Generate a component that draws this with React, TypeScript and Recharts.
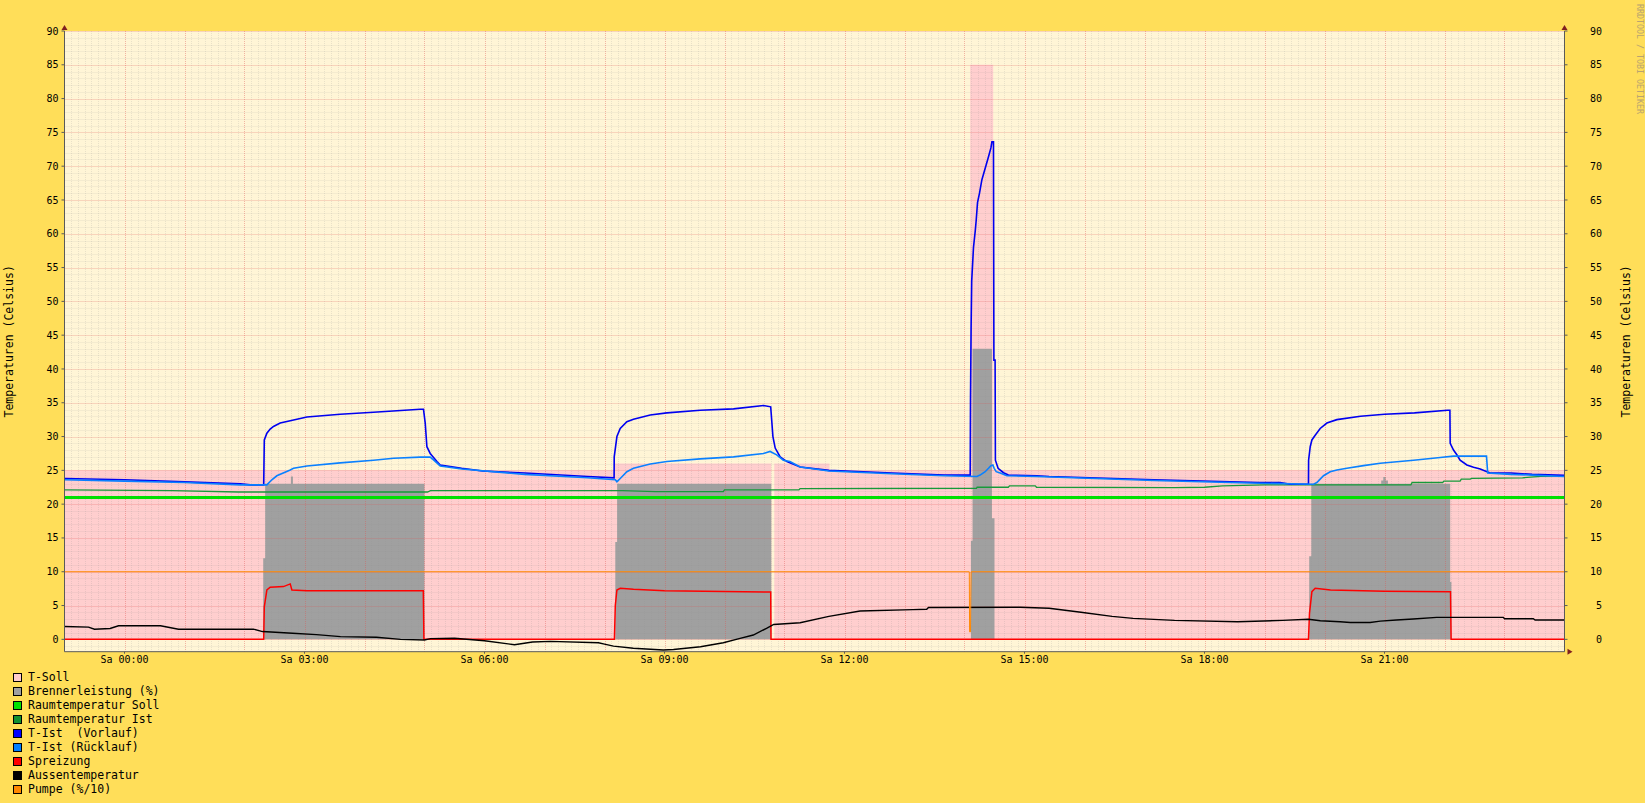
import { ComposedChart, Area, Line, XAxis, YAxis, CartesianGrid, Legend } from 'recharts';

const FONT = '"DejaVu Sans Mono", monospace';

// time in hours (Sa 00:00 = 0), values in °C
const tSoll: [number, number][] = [
  [-1, 25], [8.17, 26], [10.78, 0], [10.83, 26], [11.75, 25], [14.095, 85], [14.478, 25], [24, 25],
];

const brenner: [number, number][] = [
  [-1, 0], [2.312, 12], [2.345, 23], [2.773, 24.1], [2.807, 23], [5.0, 0],
  [8.18, 14.4], [8.21, 23], [10.78, 0],
  [14.107, 14.6], [14.134, 43], [14.457, 17.9], [14.5, 0],
  [19.745, 12.3], [19.78, 23], [20.945, 23.5], [20.98, 24], [21.02, 23.5], [21.057, 23],
  [22.095, 8.5], [22.115, 0], [24, 0],
];

const raumSoll: [number, number][] = [[-1, 21], [24, 21]];

const raumIst: [number, number][] = [
  [-1, 22.1], [0.8, 22.0], [1.9, 21.8], [5.05, 21.8], [5.1, 22.0], [8.3, 22.0], [8.85, 21.85],
  [9.98, 21.85], [10.0, 22.1], [11.24, 22.1], [11.26, 22.3], [14.2, 22.35], [14.21, 22.5],
  [14.73, 22.5], [14.75, 22.7], [15.18, 22.7], [15.2, 22.5], [17.5, 22.45], [18.0, 22.5],
  [18.3, 22.7], [19.0, 22.85], [21.44, 22.85], [21.46, 23.2], [21.97, 23.2], [21.99, 23.4],
  [22.26, 23.4], [22.28, 23.7], [22.43, 23.7], [22.45, 23.8], [23.3, 23.9], [23.6, 24.1], [24, 24.2],
];

const vorlauf: [number, number][] = [
  [-1, 23.8], [0, 23.6], [1.0, 23.3], [1.93, 23.0], [2.1, 22.85], [2.32, 22.85], [2.33, 29.5],
  [2.373, 30.5], [2.428, 31.1], [2.483, 31.5], [2.595, 32.0], [2.762, 32.35], [3.04, 32.9],
  [3.595, 33.3], [4.15, 33.6], [4.928, 34.05], [4.983, 34.05], [5.012, 32.0], [5.04, 28.5],
  [5.095, 27.5], [5.207, 26.3], [5.262, 25.8], [5.62, 25.3], [5.97, 24.9], [6.67, 24.6],
  [7.72, 24.1], [8.16, 23.9], [8.162, 27.0], [8.207, 30.0], [8.262, 31.2], [8.373, 32.2],
  [8.483, 32.55], [8.762, 33.2], [9.04, 33.5], [9.595, 33.9], [10.15, 34.1], [10.65, 34.6],
  [10.77, 34.4], [10.807, 30.0], [10.845, 28.3], [10.928, 27.0], [11.04, 26.3], [11.262, 25.5],
  [11.74, 25.0], [12.79, 24.6], [13.66, 24.3], [14.095, 24.3], [14.1, 35.2], [14.11, 46],
  [14.12, 53], [14.15, 58], [14.18, 60.5], [14.195, 62], [14.217, 64.6], [14.25, 66],
  [14.29, 68], [14.345, 69.7], [14.4, 71.4], [14.44, 72.7], [14.457, 73.6], [14.483, 73.6],
  [14.49, 41.3], [14.51, 41.3], [14.515, 26.5], [14.56, 25.3], [14.65, 24.65], [14.73, 24.3],
  [15.206, 24.2], [15.41, 24.1], [17.16, 23.6], [18.91, 23.2], [19.26, 23.2], [19.43, 22.95],
  [19.733, 22.95], [19.735, 26.5], [19.762, 28.5], [19.79, 29.5], [19.845, 30.2], [19.928, 31.2],
  [20.04, 32.0], [20.206, 32.5], [20.6, 33.0], [21.0, 33.3], [21.5, 33.5], [22.05, 33.9],
  [22.09, 33.9], [22.095, 29.0], [22.15, 28.0], [22.206, 27.3], [22.26, 26.5], [22.373, 25.8],
  [22.484, 25.45], [22.595, 25.2], [22.76, 24.6], [23.11, 24.6], [23.46, 24.4], [24, 24.25],
];

const ruecklauf: [number, number][] = [
  [-1, 23.6], [0, 23.4], [1.0, 23.2], [1.93, 22.85], [2.373, 22.85], [2.456, 23.6], [2.539, 24.2],
  [2.762, 25.05], [2.817, 25.3], [3.04, 25.65], [3.595, 26.1], [4.15, 26.5], [4.484, 26.8],
  [4.928, 26.95], [5.095, 26.95], [5.15, 26.55], [5.262, 25.65], [5.62, 25.2], [6.67, 24.4],
  [7.72, 23.9], [8.18, 23.6], [8.207, 23.3], [8.262, 23.8], [8.373, 24.8], [8.483, 25.3],
  [8.762, 25.95], [9.04, 26.3], [9.595, 26.7], [10.15, 27.0], [10.65, 27.5], [10.76, 27.8],
  [10.87, 27.3], [10.98, 26.5], [11.09, 26.3], [11.262, 25.5], [11.74, 24.9], [12.79, 24.5],
  [13.66, 24.2], [14.206, 24.1], [14.26, 24.3], [14.345, 24.8], [14.4, 25.3], [14.44, 25.7],
  [14.473, 25.8], [14.495, 25.3], [14.528, 24.8], [14.595, 24.6], [14.707, 24.2], [15.206, 24.1],
  [17.16, 23.5], [18.91, 23.1], [19.817, 22.95], [19.873, 23.2], [19.928, 23.7], [19.984, 24.2],
  [20.095, 24.8], [20.206, 25.05], [20.373, 25.3], [20.65, 25.7], [20.928, 26.05], [21.484, 26.5],
  [21.928, 26.9], [22.15, 27.1], [22.7, 27.1], [22.72, 24.6], [23.11, 24.4], [23.46, 24.3], [24, 24.1],
];

const spreizung: [number, number][] = [
  [-1, 0], [2.32, 0], [2.33, 4.8], [2.373, 7.3], [2.428, 7.7], [2.65, 7.8], [2.762, 8.2],
  [2.79, 7.3], [3.04, 7.2], [4.98, 7.2], [4.99, 0], [8.165, 0], [8.18, 5], [8.207, 7.3],
  [8.262, 7.55], [8.483, 7.4], [9.0, 7.2], [10.77, 7.0], [10.775, 0], [19.733, 0], [19.75, 3.85],
  [19.79, 7.05], [19.845, 7.55], [20.1, 7.3], [21.0, 7.1], [22.1, 7.05], [22.11, 0], [24, 0],
];

const aussen: [number, number][] = [
  [-1, 1.9], [-0.6, 1.8], [-0.5, 1.5], [-0.24, 1.6], [-0.1, 2.0], [0.6, 2.0], [0.9, 1.5],
  [2.15, 1.5], [2.3, 1.15], [2.8, 0.9], [3.2, 0.7], [3.6, 0.4], [4.2, 0.3], [4.6, 0.0],
  [5.0, -0.1], [5.1, 0.1], [5.5, 0.15], [6.0, -0.2], [6.5, -0.8], [6.8, -0.4], [7.1, -0.3],
  [7.9, -0.5], [8.0, -0.7], [8.15, -1.0], [8.48, -1.33], [8.98, -1.58], [9.15, -1.5],
  [9.6, -1.1], [9.98, -0.5], [10.26, 0.15], [10.48, 0.64], [10.7, 1.63], [10.82, 2.2],
  [11.26, 2.45], [11.74, 3.4], [12.26, 4.2], [13.14, 4.4], [13.37, 4.44], [13.4, 4.7],
  [14.93, 4.75], [15.41, 4.6], [15.94, 4.0], [16.46, 3.4], [16.81, 3.1], [17.5, 2.8],
  [18.55, 2.6], [19.3, 2.8], [19.73, 2.96], [19.93, 2.75], [20.26, 2.6], [20.43, 2.5],
  [20.76, 2.5], [20.93, 2.7], [21.2, 2.86], [21.48, 3.0], [21.87, 3.25], [22.98, 3.25],
  [23.0, 3.05], [23.48, 3.05], [23.51, 2.86], [24, 2.86],
];

const pumpe: [number, number][] = [
  [-1, 10], [14.08, 10], [14.085, 1.1], [14.1, 1.1], [14.105, 6.3], [14.11, 10], [24, 10],
];

const yTicks = [0, 5, 10, 15, 20, 25, 30, 35, 40, 45, 50, 55, 60, 65, 70, 75, 80, 85, 90];
const xTicks = [0, 3, 6, 9, 12, 15, 18, 21];
const X_DOMAIN: [number, number] = [-1, 24];
const Y_DOMAIN: [number, number] = [-1.83, 90];

const legendItems = [
  { name: 'T-Soll', color: '#FFCCCC' },
  { name: 'Brennerleistung (%)', color: '#A0A0A0' },
  { name: 'Raumtemperatur Soll', color: '#00E000' },
  { name: 'Raumtemperatur Ist', color: '#109030' },
  { name: 'T-Ist  (Vorlauf)', color: '#0000FF' },
  { name: 'T-Ist (Rücklauf)', color: '#0080FF' },
  { name: 'Spreizung', color: '#FF0000' },
  { name: 'Aussentemperatur', color: '#000000' },
  { name: 'Pumpe (%/10)', color: '#FF8800' },
];

const rows = (pts: [number, number][]) => pts.map(([t, v]) => ({ t, v }));

// grid positions
const minorY: number[] = [];
for (let v = -1; v <= 90; v++) if (v % 5 !== 0) minorY.push(v);
const minorX: number[] = [];
for (let i = 0; i <= 25 * 9; i++) if (i % 9 !== 0) minorX.push(-1 + i / 9);
const majorX: number[] = [];
for (let h = 0; h < 24; h++) majorX.push(h);

const crisp = (p: number) => Math.round(p) + 0.5;

// map a value through the axis scale handed over by the grid
const project = (axis: any, domain: [number, number], v: number): number => {
  const s = axis && axis.scale;
  if (typeof s === 'function') return s(v);
  if (s && typeof s.map === 'function') return s.map(v);
  const r = axis && axis.range;
  if (Array.isArray(r)) return r[0] + ((v - domain[0]) / (domain[1] - domain[0])) * (r[1] - r[0]);
  return NaN;
};

const hGen = (vals: number[]) => ({ yAxis }: any) =>
  vals.map((v) => crisp(project(yAxis, Y_DOMAIN, v))).filter((p) => Number.isFinite(p));
const vGen = (vals: number[]) => ({ xAxis }: any) =>
  vals.map((v) => crisp(project(xAxis, X_DOMAIN, v))).filter((p) => Number.isFinite(p));

const ARROW = '#7F1F1F';
const AXIS = '#5A5A5A';

const LeftDecor = (props: any) => {
  const vb = props.viewBox || {};
  const ax = vb.x + vb.width;
  const cx = vb.x + 0.8;
  const cy = vb.y + vb.height / 2;
  return (
    <g>
      <polygon points={`${ax - 3},${vb.y - 1} ${ax + 3},${vb.y - 1} ${ax},${vb.y - 6}`} fill={ARROW} />
      <text x={cx} y={cy} dy="0.35em" textAnchor="middle" transform={`rotate(-90 ${cx} ${cy})`}
        fontFamily={FONT} fontSize={11.5} fill="#000">Temperaturen (Celsius)</text>
    </g>
  );
};

const RightDecor = (props: any) => {
  const vb = props.viewBox || {};
  const ax = vb.x;
  const cx = vb.x + 61.5;
  const cy = vb.y + vb.height / 2;
  return (
    <g>
      <polygon points={`${ax - 3},${vb.y - 1} ${ax + 3},${vb.y - 1} ${ax},${vb.y - 6}`} fill={ARROW} />
      <text x={cx} y={cy} dy="0.35em" textAnchor="middle" transform={`rotate(-90 ${cx} ${cy})`}
        fontFamily={FONT} fontSize={11.5} fill="#000">Temperaturen (Celsius)</text>
    </g>
  );
};

const XDecor = (props: any) => {
  const vb = props.viewBox || {};
  const ex = vb.x + vb.width;
  return <polygon points={`${ex + 3},${vb.y - 3} ${ex + 3},${vb.y + 3} ${ex + 8},${vb.y}`} fill={ARROW} />;
};

const RightTick = (props: any) => {
  const { x, y, payload } = props;
  return (
    <text x={x + 12} y={y} dy="0.355em" textAnchor="end" fontFamily={FONT} fontSize={10} fill="#000">
      {payload.value}
    </text>
  );
};

const renderLegend = () => (
  <div style={{ fontFamily: FONT, fontSize: 11.5, color: '#000' }}>
    {legendItems.map((item) => (
      <div key={item.name} style={{ display: 'flex', alignItems: 'center', height: 14 }}>
        <span style={{ width: 7, height: 7, border: '1px solid #000', background: item.color, display: 'inline-block' }} />
        <span style={{ marginLeft: 6, whiteSpace: 'pre' }}>{item.name}</span>
      </div>
    ))}
  </div>
);

const App = () => {
  const tickStyle = { fill: '#000', fontSize: 10, fontFamily: FONT };
  return (
    <div style={{ position: 'relative', width: 1645, height: 803, background: '#FFDE59', overflow: 'hidden' }}>
      <style>{'body{margin:0}'}</style>
      <ComposedChart width={1645} height={803} margin={{ top: 31, right: 40.5, bottom: 131.3, left: 8.5 }}>
        <CartesianGrid fill="#FFF5D6" horizontal={false} vertical={false} />
        <XAxis
          dataKey="t" type="number" domain={X_DOMAIN} allowDataOverflow ticks={xTicks} interval={0}
          tickFormatter={(h: number) => `Sa ${String(h).padStart(2, '0')}:00`}
          tick={tickStyle} tickSize={2} tickMargin={2} height={20}
          axisLine={{ stroke: AXIS }} tickLine={{ stroke: AXIS }} label={XDecor}
        />
        <YAxis
          yAxisId={0} type="number" domain={Y_DOMAIN} allowDataOverflow ticks={yTicks} interval={0}
          width={56} tick={tickStyle} tickSize={3} tickMargin={3}
          axisLine={{ stroke: AXIS }} tickLine={{ stroke: AXIS }} label={LeftDecor}
        />
        <YAxis
          yAxisId="right" orientation="right" type="number" domain={Y_DOMAIN} allowDataOverflow
          ticks={yTicks} interval={0} width={40} tick={RightTick} tickSize={3} tickMargin={22.5}
          axisLine={{ stroke: AXIS }} tickLine={{ stroke: AXIS }} label={RightDecor}
        />

        <Area data={rows(tSoll)} dataKey="v" name="T-Soll" type="stepAfter" baseValue={0}
          fill="#FFCECE" fillOpacity={1} stroke="none" isAnimationActive={false} activeDot={false} />
        <Area data={rows(brenner)} dataKey="v" name="Brennerleistung (%)" type="stepAfter" baseValue={0}
          fill="#A0A0A0" fillOpacity={1} stroke="none" isAnimationActive={false} activeDot={false} />

        {/* rrdtool-style dotted grid, drawn over the areas */}
        <CartesianGrid zIndex={150} stroke="rgba(143,143,143,0.2)" strokeDasharray="1 1"
          horizontalCoordinatesGenerator={hGen(minorY)} verticalCoordinatesGenerator={vGen(minorX)} />
        <CartesianGrid zIndex={160} stroke="rgba(222,81,81,0.4)" strokeDasharray="1 1"
          horizontalCoordinatesGenerator={hGen(yTicks)} verticalCoordinatesGenerator={vGen(majorX)} />

        <Line data={rows(raumSoll)} dataKey="v" name="Raumtemperatur Soll" type="linear" stroke="#00E000"
          strokeWidth={3} dot={false} activeDot={false} isAnimationActive={false} />
        <Line data={rows(raumIst)} dataKey="v" name="Raumtemperatur Ist" type="linear" stroke="#169A3A"
          strokeWidth={1.3} dot={false} activeDot={false} isAnimationActive={false} />
        <Line data={rows(vorlauf)} dataKey="v" name="T-Ist  (Vorlauf)" type="linear" stroke="#0000F0"
          strokeWidth={1.6} dot={false} activeDot={false} isAnimationActive={false} />
        <Line data={rows(ruecklauf)} dataKey="v" name="T-Ist (Rücklauf)" type="linear" stroke="#0A80FF"
          strokeWidth={1.6} dot={false} activeDot={false} isAnimationActive={false} />
        <Line data={rows(spreizung)} dataKey="v" name="Spreizung" type="linear" stroke="#FF0000"
          strokeWidth={1.5} dot={false} activeDot={false} isAnimationActive={false} />
        <Line data={rows(aussen)} dataKey="v" name="Aussentemperatur" type="linear" stroke="#000000"
          strokeWidth={1.4} dot={false} activeDot={false} isAnimationActive={false} />
        <Line data={rows(pumpe)} dataKey="v" name="Pumpe (%/10)" type="linear" stroke="#FF8800"
          strokeWidth={1} dot={false} activeDot={false} isAnimationActive={false} />

        <Legend layout="horizontal" verticalAlign="middle" align="center"
          wrapperStyle={{ left: 13, top: 670, width: 320, height: 130 }} content={renderLegend} />
      </ComposedChart>
      <div style={{
        position: 'absolute', left: 1635, top: 4, writingMode: 'vertical-rl', fontFamily: FONT,
        fontSize: 8.3, lineHeight: '10px', color: '#B8A470', whiteSpace: 'pre',
      }}>RRDTOOL / TOBI OETIKER</div>
    </div>
  );
};

export default App;
